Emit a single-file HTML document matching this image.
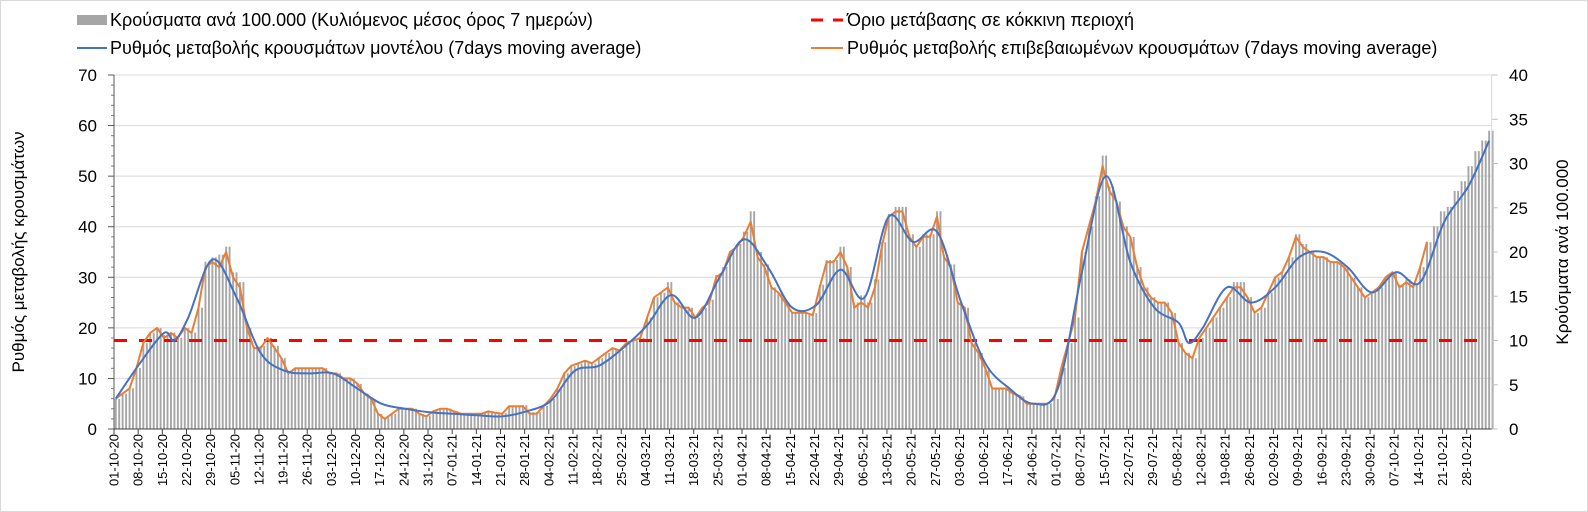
<!DOCTYPE html>
<html><head><meta charset="utf-8"><style>
html,body{margin:0;padding:0;background:#fff}
svg{display:block;font-family:"Liberation Sans",Arial,sans-serif}
</style></head><body>
<svg id="chart" width="1588" height="512" viewBox="0 0 1588 512" xmlns="http://www.w3.org/2000/svg">
<rect x="0.5" y="0.5" width="1587" height="511" fill="#fff" stroke="#d9d9d9"/>
<g id="grid"></g>
<g id="bars"></g>
<g id="axes"></g>
<g id="lines"></g>
<g font-size="18" fill="#000">
 <g><rect x="77" y="15" width="30" height="10" fill="#a6a6a6"/><text x="110" y="26">Κρούσματα ανά 100.000 (Κυλιόμενος μέσος όρος 7 ημερών)</text></g>
 <g><line x1="77" y1="48" x2="107" y2="48" stroke="#4472c4" stroke-width="2"/><text x="110" y="54">Ρυθμός μεταβολής κρουσμάτων μοντέλου (7days moving average)</text></g>
 <g><line x1="811" y1="20" x2="843" y2="20" stroke="#ff0000" stroke-width="3" stroke-dasharray="12,10"/><text x="847" y="26">Όριο μετάβασης σε κόκκινη περιοχή</text></g>
 <g><line x1="811" y1="48" x2="843" y2="48" stroke="#ed7d31" stroke-width="2"/><text x="847" y="54">Ρυθμός μεταβολής επιβεβαιωμένων κρουσμάτων (7days moving average)</text></g>
</g>
<text x="24" y="252" font-size="17" text-anchor="middle" transform="rotate(-90 24 252)">Ρυθμός μεταβολής κρουσμάτων</text>
<text x="1568" y="252" font-size="17" text-anchor="middle" transform="rotate(-90 1568 252)">Κρούσματα ανά 100.000</text>
</svg>
<script>
// Each entry covers two consecutive days starting 2020-10-01
const casesPer100k = [
3.4,4.0,4.6,6.9,9.7,10.9,11.4,10.6,10.9,10.3,11.4,10.9,13.7,18.9,19.4,19.7,
20.6,17.7,16.6,11.4,9.4,9.4,10.3,9.4,8.0,6.6,6.9,6.9,6.9,6.9,6.9,
6.3,6.3,5.7,5.7,5.1,4.0,3.4,1.7,1.3,1.7,2.3,2.3,2.3,1.7,1.5,
2.0,2.3,2.3,2.0,1.7,1.7,1.7,1.8,2.0,1.8,1.8,2.6,2.6,2.7,1.9,1.9,
2.6,3.4,4.6,6.3,7.1,7.4,7.7,7.4,8.0,8.6,9.1,8.9,9.7,10.0,
10.3,12.6,14.9,15.4,16.6,14.3,13.7,13.7,12.6,13.7,14.6,17.4,18.3,20.0,20.9,
22.3,24.6,20.0,18.6,16.0,15.4,14.3,13.1,13.1,13.1,13.1,16.3,19.1,19.1,20.6,
18.3,14.3,15.1,14.3,16.9,21.1,24.3,25.1,25.1,22.0,20.6,22.0,22.0,24.6,19.7,18.6,
14.3,13.7,9.7,8.6,6.9,4.6,4.6,4.6,4.0,3.7,2.9,2.9,2.9,2.9,3.4,
6.9,9.7,12.6,20.0,22.9,26.3,30.9,27.4,25.7,22.9,21.7,18.3,16.0,14.9,14.3,
14.3,13.1,9.7,8.6,8.0,10.3,11.4,12.6,13.7,14.9,16.6,16.6,14.9,13.1,13.7,15.4,
17.1,17.7,19.4,22.0,20.9,20.0,19.4,19.4,18.9,18.9,18.3,17.1,16.0,14.9,15.4,
16.0,17.1,17.7,16.3,16.9,16.3,18.3,21.1,22.9,24.6,25.1,26.9,28.0,29.7,31.4,
32.6,33.7];
// confirmed rate, one value per two days from 2020-10-01
const confirmedRate = [
6,7,8,12,17,19,20,18,19,18,20,19,24,32,33,32,
35,30,28,20,16,16,18,16,14,11,12,12,12,12,12,
11,11,10,10,9,7,6,3,2,3,4,4,4,3,2.5,
3.5,4,4,3.5,3,3,3,3,3.5,3.2,3,4.5,4.5,4.5,3,3,
4.5,6,8,11,12.5,13,13.5,13,14,15,16,15.5,17,17.5,
18,22,26,27,28,25,24,24,22,24,25,30,31,35,36,
38,41,34,32,28,27,25,23,23,23,22.5,28,33,33,35,
32,24,25,24,28,36,42,43,43,38,36,38,38,42,34,32,
25,24,17,15,12,8,8,8,7,6.5,5,5,5,5,6,
12,17,22,35,40,45,52,47,45,40,38,32,28,26,25,
25,23,17,15,14,18,20,22,24,26,28,28,26,23,24,27,
30,31,34,38,36,35,34,34,33,33,32,30,28,26,27,
28,30,31,28,29,28,32,37];
const modelDates = ["2020-10-01","2020-10-08","2020-10-15","2020-10-18","2020-10-22","2020-10-29","2020-11-05","2020-11-12","2020-11-19","2020-11-26","2020-12-03","2020-12-10","2020-12-17","2020-12-24","2020-12-31","2021-01-07","2021-01-14","2021-01-21","2021-01-28","2021-02-04","2021-02-11","2021-02-18","2021-02-25","2021-03-04","2021-03-11","2021-03-18","2021-03-25","2021-04-01","2021-04-08","2021-04-15","2021-04-22","2021-04-29","2021-05-06","2021-05-13","2021-05-20","2021-05-27","2021-06-03","2021-06-10","2021-06-17","2021-06-24","2021-07-01","2021-07-08","2021-07-15","2021-07-22","2021-07-29","2021-08-05","2021-08-08","2021-08-12","2021-08-19","2021-08-26","2021-09-02","2021-09-09","2021-09-16","2021-09-23","2021-09-30","2021-10-07","2021-10-14","2021-10-21","2021-10-28","2021-11-03"];
const modelRate = [6,13,19,17.5,22,33.5,26,15,11.5,11,11,8,5,4,3.3,3,2.7,2.5,3.5,5.5,11.5,12.5,16,20.5,26.5,22,30,37.5,32,24,24.5,31.5,26,42,37,39,25,13,8,5,8,31,50,33,24,21,17,20,28,25,28,34,35,32,27,31,29,41,48,57];
const leftTicks = [0,10,20,30,40,50,60,70];
const rightTicks = [0,5,10,15,20,25,30,35,40];
const thresholdRate = 17.5;

const NS="http://www.w3.org/2000/svg";
const X0=114, X1=1491.7, YB=429, YT=75, DW=(1466.7-114)/392;
const start=Date.UTC(2020,9,1);
function dayOf(s){const p=s.split('-');return Math.round((Date.UTC(+p[0],+p[1]-1,+p[2])-start)/864e5);}
function xDay(d){return X0+d*DW;}
function yL(v){return YB-v*(YB-YT)/70;}
function yR(v){return YB-v*(YB-YT)/40;}
function mk(tag,attrs,parent){const e=document.createElementNS(NS,tag);for(const k in attrs)e.setAttribute(k,attrs[k]);parent.appendChild(e);return e;}
const grid=document.getElementById('grid'),bars=document.getElementById('bars'),axes=document.getElementById('axes'),lines=document.getElementById('lines');

leftTicks.forEach(v=>{
 if(v>0){const g=mk('line',{x1:X0,x2:X1,y1:yL(v),y2:yL(v),stroke:'#d9d9d9','stroke-width':1},grid);
 
 }
 const t=mk('text',{x:97,y:yL(v)+6,'font-size':17,'text-anchor':'end'},axes);t.textContent=v;
 
 
 mk('line',{x1:X0-6,x2:X0,y1:yL(v),y2:yL(v),stroke:'#595959'},axes);
});
for(let v=2;v<70;v+=2){if(v%10)mk('line',{x1:X0-3,x2:X0,y1:yL(v),y2:yL(v),stroke:'#7f7f7f'},axes);}
rightTicks.forEach(v=>{
 const t=mk('text',{x:1509,y:yR(v)+6,'font-size':17},axes);t.textContent=v;
 
 
 mk('line',{x1:X1,x2:X1+6,y1:yR(v),y2:yR(v),stroke:'#bfbfbf'},axes);
});
casesPer100k.forEach((v,i)=>{
 for(let k=0;k<2;k++){
  const d=2*i+k;
  const b=mk('rect',{x:xDay(d)+0.8,y:yR(v),width:1.9,height:YB-yR(v),fill:'#a6a6a6'},bars);
  
  
 }
});
mk('line',{x1:X0,x2:X0,y1:YT,y2:YB,stroke:'#595959'},axes);
mk('line',{x1:X1,x2:X1,y1:YT,y2:YB,stroke:'#d9d9d9'},axes);
mk('line',{x1:X0,x2:X1,y1:YB,y2:YB,stroke:'#404040'},axes);
for(let d=0;d<=392;d+=7){
 const x=xDay(d);
 mk('line',{x1:x,x2:x,y1:YB,y2:YB+5,stroke:'#404040'},axes);
 const dt=new Date(start+d*864e5);
 const lab=String(dt.getUTCDate()).padStart(2,'0')+'-'+String(dt.getUTCMonth()+1).padStart(2,'0')+'-'+String(dt.getUTCFullYear()).slice(2);
 const t=mk('text',{x:x+4.5,y:434,'font-size':13,'text-anchor':'end',transform:`rotate(-90 ${x+4.5} 434)`},axes);
 t.textContent=lab;
 
 
}
const th=mk('line',{x1:X0,x2:1480,y1:yL(thresholdRate),y2:yL(thresholdRate),stroke:'#ff0000','stroke-width':3,'stroke-dasharray':'13,12'},lines);


let p=confirmedRate.map((v,i)=>(i?'L':'M')+xDay(2*i+0.5).toFixed(1)+','+yL(v).toFixed(1)).join('');
const o=mk('path',{d:p,fill:'none',stroke:'#ed7d31','stroke-width':2,'stroke-linejoin':'round'},lines);


const pts=modelDates.map((s,i)=>[xDay(dayOf(s)+0.5),yL(modelRate[i])]);
let d='M'+pts[0][0]+','+pts[0][1];
for(let i=0;i<pts.length-1;i++){
 const p0=pts[Math.max(0,i-1)],p1=pts[i],p2=pts[i+1],p3=pts[Math.min(pts.length-1,i+2)];
 const c1=[p1[0]+(p2[0]-p0[0])/6,p1[1]+(p2[1]-p0[1])/6],c2=[p2[0]-(p3[0]-p1[0])/6,p2[1]-(p3[1]-p1[1])/6];
 d+=`C${c1[0].toFixed(1)},${c1[1].toFixed(1)} ${c2[0].toFixed(1)},${c2[1].toFixed(1)} ${p2[0].toFixed(1)},${p2[1].toFixed(1)}`;
}
const bl=mk('path',{d:d,fill:'none',stroke:'#4472c4','stroke-width':2},lines);


</script>
</body></html>
